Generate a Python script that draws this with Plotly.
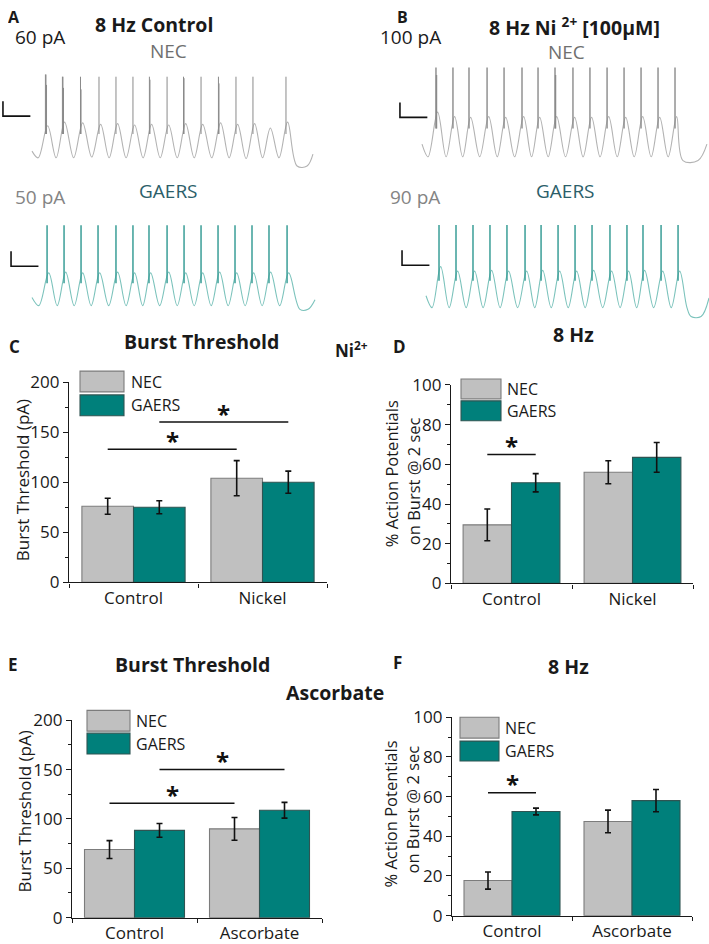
import plotly.graph_objects as go

W, H = 709, 944
FONT = "Open Sans"

# ---------------- bar-chart data ----------------
series = ["NEC", "GAERS"]
cond_ni = ["Control", "Nickel"]
cond_asc = ["Control", "Ascorbate"]

thr_ni_nec = [76, 104]
thr_ni_nec_sem = [8, 17.5]
thr_ni_gaers = [75, 100]
thr_ni_gaers_sem = [6.5, 11]

ap_ni_nec = [29.5, 56]
ap_ni_nec_sem = [8, 5.8]
ap_ni_gaers = [50.7, 63.5]
ap_ni_gaers_sem = [4.6, 7.5]

thr_asc_nec = [69, 90]
thr_asc_nec_sem = [9, 11.5]
thr_asc_gaers = [88.4, 108.8]
thr_asc_gaers_sem = [7, 8]

ap_asc_nec = [17.7, 47.5]
ap_asc_nec_sem = [4.3, 5.7]
ap_asc_gaers = [52.5, 58]
ap_asc_gaers_sem = [1.7, 5.6]

# significance bars: (category a, series a, category b, series b, height)
sig_thr_ni = [("Control", "NEC", "Nickel", "NEC", 133), ("Control", "GAERS", "Nickel", "GAERS", 160)]
sig_ap_ni = [("Control", "NEC", "Control", "GAERS", 65)]
sig_thr_asc = [("Control", "NEC", "Ascorbate", "NEC", 116), ("Control", "GAERS", "Ascorbate", "GAERS", 150)]
sig_ap_asc = [("Control", "NEC", "Control", "GAERS", 62)]

# ---------------- voltage traces (ms, mV) ----------------
# A, NEC, 8 Hz control, 60 pA
a_nec_start = (0, -71)
a_nec_trough_t = [45, 176, 304, 436, 563, 687, 811, 936, 1060, 1184, 1312, 1439, 1563, 1683, 1803]
a_nec_trough_v = [-80, -80, -80, -79, -80, -80, -80, -80, -80, -80, -80, -80, -81, -80, -80]
a_nec_hump_t = [114, 238, 370, 501, 625, 749, 873, 998, 1122, 1246, 1377, 1501, 1625, 1740, 1866]
a_nec_hump_v = [-37, -32, -33, -35, -34, -36, -35, -36, -34, -35, -33, -35, -34, -40, -32]
a_nec_end_t = [1935, 2008, 2051]
a_nec_end_v = [-91, -91, -75]
a_nec_spike_t = [98, 102, 106, 222, 226, 230, 354, 358, 489, 613, 737, 857, 861, 986,
                 1106, 1110, 1234, 1361, 1365, 1489, 1613, 1854]
a_nec_spike_v = [32, 32, 18, 29, 29, 14, 29, 12, 29, 29, 29, 29, 25, 29,
                 29, 27, 29, 29, 20, 29, 29, 29]
a_nec_spike_base = -48

# B, NEC, 8 Hz Ni2+, 100 pA
b_nec_start = (0, -63)
b_nec_trough_t = [44, 176, 297, 421, 549, 676, 800, 921, 1048, 1176, 1300, 1425, 1549, 1673, 1797]
b_nec_trough_v = [-80, -80, -80, -80, -80, -80, -80, -80, -80, -80, -80, -80, -80, -80, -80]
b_nec_hump_t = [114, 238, 355, 487, 611, 742, 859, 983, 1114, 1238, 1363, 1487, 1611, 1735, 1859]
b_nec_hump_v = [-20, -26, -27, -26, -27, -26, -27, -26, -27, -27, -26, -27, -26, -27, -26]
b_nec_end_t = [1905, 2015, 2080]
b_nec_end_v = [-85, -85, -63]
b_nec_spike_t = [102, 106, 226, 343, 475, 599, 730, 847, 971, 975, 1102, 1226, 1351, 1475, 1599, 1723, 1847]
b_nec_spike_v = [40, 30, 40, 40, 40, 40, 40, 40, 40, 30, 40, 40, 40, 40, 40, 40, 40]
b_nec_spike_base = -42

# A, GAERS, 8 Hz control, 50 pA
a_gae_start = (0, -69)
a_gae_trough_t = [50, 184, 308, 432, 560, 687, 808, 932, 1060, 1184, 1308, 1432, 1556, 1680, 1808]
a_gae_trough_v = [-80, -80, -80, -80, -80, -80, -80, -80, -80, -80, -80, -80, -80, -80, -80]
a_gae_hump_t = [122, 246, 370, 494, 625, 749, 866, 998, 1122, 1246, 1370, 1494, 1618, 1742, 1874]
a_gae_hump_v = [-36, -35, -36, -36, -35, -36, -36, -35, -36, -36, -35, -36, -36, -35, -36]
a_gae_end_t = [1956, 2015, 2066]
a_gae_end_v = [-85, -85, -72]
a_gae_spike_t = [110, 234, 358, 482, 613, 737, 854, 986, 1110, 1234, 1358, 1482, 1606, 1730, 1862]
a_gae_spike_v = [28, 28, 28, 28, 28, 28, 28, 28, 28, 28, 28, 28, 28, 28, 28]
a_gae_spike_base = -50

# B, GAERS, 8 Hz Ni2+, 90 pA
b_gae_start = (0, -64)
b_gae_trough_t = [44, 169, 293, 417, 541, 669, 794, 914, 1038, 1162, 1290, 1417, 1538, 1662, 1790]
b_gae_trough_v = [-80, -80, -80, -80, -80, -80, -80, -80, -80, -80, -80, -80, -80, -80, -80]
b_gae_hump_t = [107, 231, 355, 479, 603, 735, 852, 976, 1100, 1224, 1355, 1479, 1596, 1728, 1852]
b_gae_hump_v = [-25, -31, -31, -30, -31, -31, -30, -31, -31, -30, -31, -31, -30, -31, -31]
b_gae_end_t = [1905, 1935, 2008, 2066]
b_gae_end_v = [-80, -92, -92, -67]
b_gae_spike_t = [95, 219, 343, 467, 591, 723, 840, 964, 1088, 1212, 1343, 1467, 1584, 1716, 1840]
b_gae_spike_v = [31, 31, 31, 31, 31, 31, 31, 31, 31, 31, 31, 31, 31, 31, 31]
b_gae_spike_base = -44

# scale bars: (left time ms, bottom mV); 200 ms x 20 mV
sb_len_ms = 200
sb_len_mv = 20
a_nec_sb = (-212, -24)
b_nec_sb = (-161, -27)
a_gae_sb = (-153, -27)
b_gae_sb = (-175, -23)

# ---------------- layout / styling ----------------
NEC_FILL, NEC_EDGE = "#c0c0c0", "#7c7c7c"
GAE_FILL, GAE_EDGE = "#00807b", "#2f5452"
NEC_WAVE, NEC_SPK = "#b3b3b3", "#8a8a8a"
GAE_WAVE, GAE_SPK = "#7cc3bc", "#3a9e97"
AX = "#1a1a1a"
MS_PER_PX = 7.3
MV_PER_PX = 1.333
TROUGH_MV = -80
TICK_SIZE = 17
YT_SIZE = 17
# the photographed page shows the paper slightly squeezed vertically; compensate
Y_OFF = 12
Y_SCALE = 0.975


def px(x):
    return x / W


def py(y):
    return 1 - ((y - Y_OFF) / Y_SCALE) / H


fig = go.Figure()
layout = dict(
    width=W, height=H, margin=dict(l=0, r=0, t=0, b=0),
    paper_bgcolor="white", plot_bgcolor="rgba(0,0,0,0)",
    showlegend=False, barmode="group", bargap=0.2, bargroupgap=0,
    font=dict(family=FONT, color=AX),
)
shapes, annotations = [], []


def ann(x, y, text, size, color=AX, angle=0, **kw):
    annotations.append(dict(x=px(x), y=py(y), xref="paper", yref="paper", text=text,
                            showarrow=False, textangle=angle, xanchor="center", yanchor="middle",
                            font=dict(size=size, color=color, family=FONT), **kw))


# ---- trace panels ----
def trace_panel(n, origin_px, trough_py, box, start, tr_t, tr_v, hu_t, hu_v, end_t, end_v,
                sp_t, sp_v, sp_base, sb, wave_col, spk_col, spk_w):
    x0, x1, y0, y1 = box
    layout["xaxis%d" % n] = dict(domain=[px(x0), px(x1)],
                                 range=[(x0 - origin_px) * MS_PER_PX, (x1 - origin_px) * MS_PER_PX],
                                 visible=False, anchor="y%d" % n)
    layout["yaxis%d" % n] = dict(domain=[py(y1), py(y0)],
                                 range=[TROUGH_MV + (trough_py - y1) * MV_PER_PX,
                                        TROUGH_MV + (trough_py - y0) * MV_PER_PX],
                                 visible=False, anchor="x%d" % n)
    t, v = [start[0]], [start[1]]
    for a, b, c, d in zip(tr_t, tr_v, hu_t, hu_v):
        t += [a, c]
        v += [b, d]
    t += end_t
    v += end_v
    fig.add_trace(go.Scatter(x=t, y=v, mode="lines", line=dict(color=wave_col, width=1.1, shape="spline", smoothing=1.0),
                             xaxis="x%d" % n, yaxis="y%d" % n, hoverinfo="skip"))
    sx, sy = [], []
    for tt, pk in zip(sp_t, sp_v):
        sx += [tt, tt, None]
        sy += [sp_base, pk, None]
    fig.add_trace(go.Scatter(x=sx, y=sy, mode="lines", line=dict(color=spk_col, width=spk_w),
                             xaxis="x%d" % n, yaxis="y%d" % n, hoverinfo="skip"))
    st, sv = sb
    fig.add_trace(go.Scatter(x=[st, st, st + sb_len_ms], y=[sv + sb_len_mv, sv, sv], mode="lines",
                             line=dict(color="#111111", width=1.6),
                             xaxis="x%d" % n, yaxis="y%d" % n, hoverinfo="skip"))


trace_panel(5, 32, 159, (0, 354, 55, 178), a_nec_start, a_nec_trough_t, a_nec_trough_v, a_nec_hump_t,
            a_nec_hump_v, a_nec_end_t, a_nec_end_v, a_nec_spike_t, a_nec_spike_v, a_nec_spike_base,
            a_nec_sb, NEC_WAVE, NEC_SPK, 1.0)
trace_panel(6, 422, 158, (354, 709, 55, 178), b_nec_start, b_nec_trough_t, b_nec_trough_v, b_nec_hump_t,
            b_nec_hump_v, b_nec_end_t, b_nec_end_v, b_nec_spike_t, b_nec_spike_v, b_nec_spike_base,
            b_nec_sb, NEC_WAVE, NEC_SPK, 1.4)
trace_panel(7, 32, 308, (0, 354, 212, 325), a_gae_start, a_gae_trough_t, a_gae_trough_v, a_gae_hump_t,
            a_gae_hump_v, a_gae_end_t, a_gae_end_v, a_gae_spike_t, a_gae_spike_v, a_gae_spike_base,
            a_gae_sb, GAE_WAVE, GAE_SPK, 1.5)
trace_panel(8, 426, 310, (354, 709, 212, 325), b_gae_start, b_gae_trough_t, b_gae_trough_v, b_gae_hump_t,
            b_gae_hump_v, b_gae_end_t, b_gae_end_v, b_gae_spike_t, b_gae_spike_v, b_gae_spike_base,
            b_gae_sb, GAE_WAVE, GAE_SPK, 1.5)


# ---- bar panels ----
def bar_panel(n, cats, nec, nec_e, gae, gae_e, xbox, ybox, ymax, ydt, ymdt, sig, legbox):
    xs = "x" if n == 1 else "x%d" % n
    ys = "y" if n == 1 else "y%d" % n
    xk = "xaxis" if n == 1 else "xaxis%d" % n
    yk = "yaxis" if n == 1 else "yaxis%d" % n
    for name, vals, errs, fill, edge in (("NEC", nec, nec_e, NEC_FILL, NEC_EDGE),
                                         ("GAERS", gae, gae_e, GAE_FILL, GAE_EDGE)):
        fig.add_trace(go.Bar(x=cats, y=vals, name=name, xaxis=xs, yaxis=ys,
                             marker=dict(color=fill, line=dict(color=edge, width=1.1)),
                             error_y=dict(type="data", array=errs, color="#111111", thickness=1.6, width=3)))
    layout[xk] = dict(domain=[px(xbox[0]), px(xbox[1])], type="category", categoryorder="array",
                      categoryarray=cats, range=[-0.5, 1.5], showline=True, linecolor=AX, linewidth=1.3,
                      ticks="outside", tickson="boundaries", ticklen=4, tickwidth=1.2, tickcolor=AX,
                      tickfont=dict(size=TICK_SIZE, family=FONT, color=AX), showgrid=False, zeroline=False,
                      anchor=ys, fixedrange=True)
    layout[yk] = dict(domain=[py(ybox[1]), py(ybox[0])], range=[0, ymax], tick0=0, dtick=ydt,
                      showline=True, linecolor=AX, linewidth=1.3, ticks="outside", ticklen=5,
                      tickwidth=1.2, tickcolor=AX, tickfont=dict(size=TICK_SIZE, family=FONT, color=AX),
                      minor=dict(dtick=ymdt, tick0=0, ticks="outside", ticklen=3, tickwidth=1, tickcolor=AX),
                      showgrid=False, zeroline=False, anchor=xs, fixedrange=True)
    off = {"NEC": -0.2, "GAERS": 0.2}
    for ca, sa, cb, sbn, hgt in sig:
        xa = cats.index(ca) + off[sa]
        xb = cats.index(cb) + off[sbn]
        shapes.append(dict(type="line", xref=xs, yref=ys, x0=xa, x1=xb, y0=hgt, y1=hgt,
                           line=dict(color="#111111", width=1.5)))
        annotations.append(dict(x=(xa + xb) / 2, y=hgt, xref=xs, yref=ys, text="<b>*</b>", showarrow=False,
                                yanchor="middle", yshift=9, font=dict(size=24, family=FONT, color="#111111")))
    bx0, bx1, ny0, ny1, gy0, gy1, tx = legbox
    for (y0, y1, fill, edge, label) in ((ny0, ny1, NEC_FILL, NEC_EDGE, "NEC"), (gy0, gy1, GAE_FILL, GAE_EDGE, "GAERS")):
        shapes.append(dict(type="rect", xref="paper", yref="paper", x0=px(bx0), x1=px(bx1), y0=py(y1), y1=py(y0),
                           fillcolor=fill, line=dict(color=edge, width=1.1)))
        annotations.append(dict(x=px(tx), y=py((y0 + y1) / 2), xref="paper", yref="paper", text=label,
                                showarrow=False, xanchor="left", yanchor="middle",
                                font=dict(size=16, family=FONT, color=AX)))


bar_panel(1, cond_ni, thr_ni_nec, thr_ni_nec_sem, thr_ni_gaers, thr_ni_gaers_sem,
          (69, 327), (385, 587), 200, 50, 25, sig_thr_ni, (80, 124, 374, 395, 398, 419, 129))
bar_panel(2, cond_ni, ap_ni_nec, ap_ni_nec_sem, ap_ni_gaers, ap_ni_gaers_sem,
          (451, 693), (388, 588), 100, 20, 10, sig_ap_ni, (461, 501, 382, 402, 404, 424, 505))
bar_panel(3, cond_asc, thr_asc_nec, thr_asc_nec_sem, thr_asc_gaers, thr_asc_gaers_sem,
          (72, 322), (726, 925), 200, 50, 25, sig_thr_asc, (87, 130, 716, 737, 739, 760, 134))
bar_panel(4, cond_asc, ap_asc_nec, ap_asc_nec_sem, ap_asc_gaers, ap_asc_gaers_sem,
          (452, 692), (723, 923), 100, 20, 10, sig_ap_asc, (460, 499, 723, 744, 747, 767, 503))

# ---- text ----
GRAY_T = "#6f6f6f"
LGRAY_T = "#848484"
TEAL_T = "#2b5e69"
ann(14, 17, "<b>A</b>", 16, height=12)
ann(40, 37, "60 pA", 19)
ann(154, 25, "<b>8 Hz Control</b>", 19.5)
ann(168, 51, "NEC", 19, GRAY_T)
ann(402, 17, "<b>B</b>", 16, height=12)
ann(410, 37, "100 pA", 19)
ann(574, 27, "<b>8 Hz Ni <sup>2+</sup> [100µM]</b>", 19.5)
ann(566, 52, "NEC", 19, GRAY_T)
ann(40, 198, "50 pA", 19, LGRAY_T)
ann(168, 192, "GAERS", 19, TEAL_T)
ann(415, 198, "90 pA", 19, LGRAY_T)
ann(565, 192, "GAERS", 19, TEAL_T)

ann(14, 349, "<b>C</b>", 17)
ann(201, 344, "<b>Burst Threshold</b>", 19.5)
ann(351, 352, "<b>Ni<sup>2+</sup></b>", 17)
ann(399, 349, "<b>D</b>", 17)
ann(573, 337, "<b>8 Hz</b>", 19.5)
ann(22, 484, "Burst Threshold (pA)", YT_SIZE, angle=-90)
ann(391, 478, "% Action Potentials", YT_SIZE - 0.5, angle=-90)
ann(413, 485, "on Burst @ 2 sec", YT_SIZE - 0.5, angle=-90)

ann(13, 670, "<b>E</b>", 17)
ann(192, 670, "<b>Burst Threshold</b>", 19.5)
ann(335, 698, "<b>Ascorbate</b>", 19.5)
ann(397, 668, "<b>F</b>", 17)
ann(568, 672, "<b>8 Hz</b>", 19.5)
ann(25, 818, "Burst Threshold (pA)", YT_SIZE, angle=-90)
ann(390, 821, "% Action Potentials", YT_SIZE - 0.5, angle=-90)
ann(413, 816, "on Burst @ 2 sec", YT_SIZE - 0.5, angle=-90)

layout["shapes"] = shapes
layout["annotations"] = annotations
fig.update_layout(**layout)
page_fix = ("var s=document.documentElement.style;s.margin='0';s.padding='0';s.overflow='hidden';"
            "var b=document.body.style;b.margin='0';b.padding='0';b.overflow='hidden';")
fig.write_html("out.html", post_script=page_fix, config={"displayModeBar": False})
